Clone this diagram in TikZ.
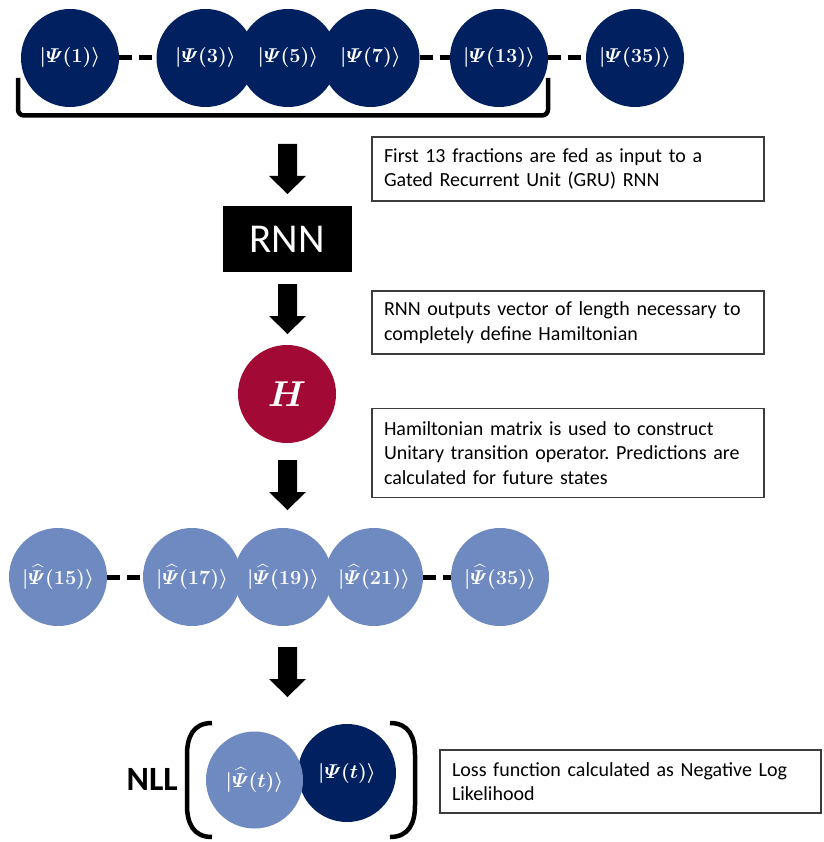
\RequirePackage{fix-cm}
\documentclass[tikz,border=0pt]{standalone}
\usepackage{amsmath}
\usepackage[no-math]{fontspec}
\setmainfont{Carlito}
\frenchspacing

\definecolor{navy}{RGB}{0,32,96}
\definecolor{lightblue}{RGB}{111,138,192}
\definecolor{crimson}{RGB}{162,10,53}
\definecolor{boxline}{RGB}{60,60,60}

\tikzset{
  state/.style={circle, fill=navy, minimum size=98pt, inner sep=0pt,
    text=white, font=\fontsize{20}{20}\selectfont\boldmath},
  pred/.style={state, fill=lightblue},
  link/.style={line width=5pt, dash pattern=on 13pt off 7pt},
  note/.style={rectangle, draw=boxline, line width=1.2pt, text width=368pt,
    inner xsep=12pt, align=left, font=\fontsize{20}{24.5}\selectfont},
  paren/.style={line width=4.5pt},
  downarrow/.pic={
    \fill (-9.5,0) -- (9.5,0) -- (9.5,32) -- (18.5,32) -- (0,50)
      -- (-18.5,32) -- (-9.5,32) -- cycle;
  }
}

\begin{document}
\begin{tikzpicture}[x=1pt, y=-1pt]
\useasboundingbox (0,0) rectangle (823,842);

% observed states
\node[state] (p1)  at (70,58)    {$|\varPsi(1)\rangle$};
\node[state] (p3)  at (205.5,58) {$|\varPsi(3)\rangle$};
\node[state] (p5)  at (288,58)   {$|\varPsi(5)\rangle$};
\node[state] (p7)  at (370.5,58) {$|\varPsi(7)\rangle$};
\node[state] (p13) at (499,58)   {$|\varPsi(13)\rangle$};
\node[state] (p35) at (635,58)   {$|\varPsi(35)\rangle$};
\draw[link] (p1.east) -- (p3.west);
\draw[link] (p7.east) -- (p13.west);
\draw[link] (p13.east) -- (p35.west);

% brace under the first 13 fractions
\draw[line width=4.5pt, rounded corners=6pt] (18,78) -- (18,115.5) -- (548,115.5) -- (548,78);

\pic at (287.5,144) {downarrow};

\node[fill=black, minimum width=129pt, minimum height=65pt, inner sep=0pt,
  text=white, font=\fontsize{41}{41}\selectfont] (rnn) at (287,239) {RNN};

\node[note, minimum height=64pt] (n1) at (568,169)
  {First 13 fractions are fed as input to a\\ Gated Recurrent Unit (GRU) RNN};

\pic at (287.5,284) {downarrow};

\node[note, minimum height=63pt] (n2) at (568,322.5)
  {RNN outputs vector of length necessary to\\ completely define Hamiltonian};

\node[circle, fill=crimson, minimum size=98pt, inner sep=0pt, text=white,
  font=\fontsize{36}{36}\selectfont\boldmath] (ham) at (287,394) {$H$};

\node[note, minimum height=88.5pt] (n3) at (568,453)
  {Hamiltonian matrix is used to construct\\ Unitary transition operator. Predictions are\\ calculated for future states};

\pic at (287.5,460) {downarrow};

% predicted states
\node[pred] (q15) at (58,577)  {$|\widehat{\varPsi}(15)\rangle$};
\node[pred] (q17) at (192,577) {$|\widehat{\varPsi}(17)\rangle$};
\node[pred] (q19) at (283,577) {$|\widehat{\varPsi}(19)\rangle$};
\node[pred] (q21) at (374,577) {$|\widehat{\varPsi}(21)\rangle$};
\node[pred] (q35) at (500,577) {$|\widehat{\varPsi}(35)\rangle$};
\draw[link] (q15.east) -- (q17.west);
\draw[link] (q21.east) -- (q35.west);

\pic at (287.5,647) {downarrow};

% loss term
\node[state] (tr) at (347,773) {$|\varPsi(t)\rangle$};
\node[pred, minimum size=97pt] (tp) at (254.5,780) {$|\widehat{\varPsi}(t)\rangle$};
\node[anchor=east, inner sep=0pt, font=\fontsize{34}{34}\selectfont\bfseries] (nll) at (178,779) {NLL};
\draw[paren] (212,723) .. controls (193,723) and (187,737) .. (187,755)
  -- (187,805) .. controls (187,823) and (193,837) .. (212,837);
\draw[paren] (390,723) .. controls (409,723) and (415,737) .. (415,755)
  -- (415,805) .. controls (415,823) and (409,837) .. (390,837);

\node[note, text width=357pt, minimum height=63pt] (n4) at (630.5,781.5)
  {Loss function calculated as Negative Log\\ Likelihood};
\end{tikzpicture}
\end{document}
